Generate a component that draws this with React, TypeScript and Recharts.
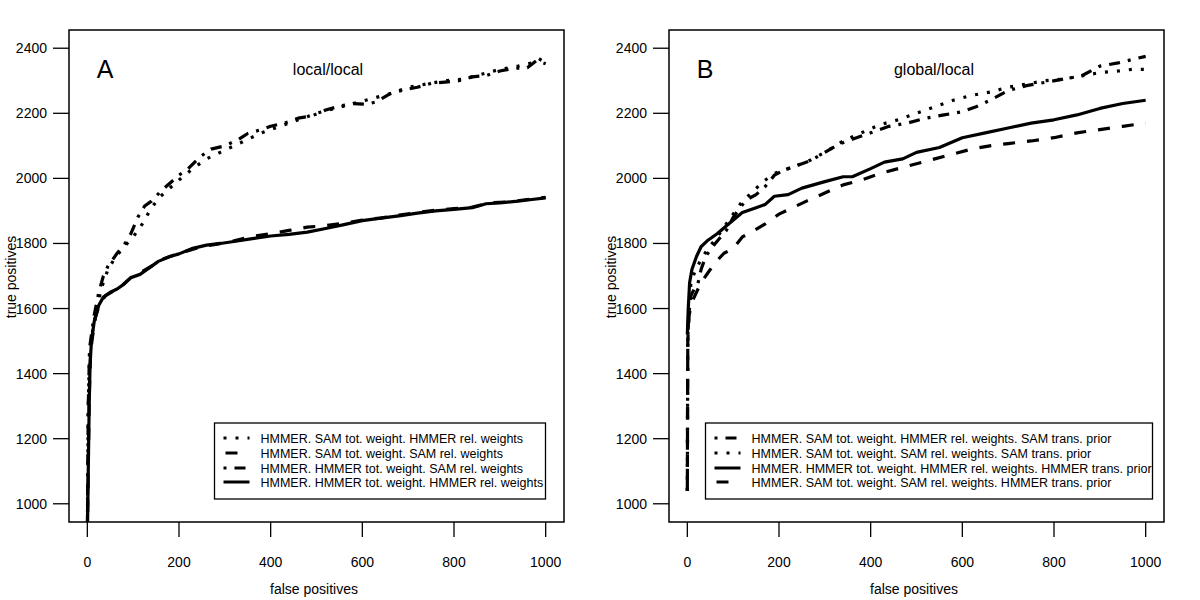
import { LineChart, Line, XAxis, YAxis, ReferenceArea, Customized } from 'recharts';

const FONT = '"Liberation Sans", Arial, Helvetica, sans-serif';

const xTicks = [0, 200, 400, 600, 800, 1000];
const yTicks = [1000, 1200, 1400, 1600, 1800, 2000, 2200, 2400];

// R-style line types
const DOTTED = '3 9';
const DASHED = '12 12';
const DOTDASH = '3 8 11 8';

// panel A: local/local
const aDotX = [0, 2, 5, 10, 20, 30, 45, 60, 80, 100, 120, 140, 160, 180, 200, 230, 260, 290, 320, 350, 380, 420, 460, 500, 540, 580, 620, 660, 700, 740, 780, 820, 860, 900, 940, 970, 985, 1000];
const aDotY = [900, 1300, 1470, 1520, 1590, 1660, 1720, 1755, 1790, 1820, 1860, 1910, 1945, 1970, 1995, 2030, 2060, 2080, 2100, 2120, 2140, 2160, 2180, 2200, 2215, 2230, 2245, 2260, 2280, 2290, 2300, 2305, 2320, 2335, 2345, 2355, 2368, 2355];

const aDashX = [0, 1, 4, 7, 10, 17, 27, 40, 55, 75, 95, 115, 140, 165, 190, 220, 250, 280, 320, 360, 400, 440, 480, 520, 560, 600, 640, 680, 720, 760, 800, 840, 880, 920, 960, 1000];
const aDashY = [900, 1000, 1320, 1460, 1500, 1570, 1615, 1640, 1652, 1670, 1695, 1710, 1730, 1752, 1765, 1778, 1790, 1797, 1808, 1822, 1830, 1840, 1850, 1855, 1862, 1872, 1878, 1887, 1895, 1902, 1907, 1912, 1925, 1928, 1935, 1942];

const aDotDashX = [0, 2, 5, 8, 15, 25, 35, 45, 55, 65, 80, 95, 110, 125, 140, 160, 180, 200, 220, 245, 270, 300, 330, 350, 380, 400, 430, 460, 490, 520, 550, 580, 610, 630, 660, 690, 720, 750, 780, 810, 840, 870, 900, 930, 960, 980, 1000];
const aDotDashY = [900, 1300, 1480, 1510, 1580, 1650, 1700, 1730, 1750, 1770, 1795, 1830, 1880, 1915, 1930, 1960, 1985, 2010, 2030, 2065, 2090, 2100, 2120, 2138, 2150, 2160, 2170, 2185, 2192, 2210, 2222, 2230, 2228, 2235, 2260, 2272, 2280, 2292, 2296, 2300, 2312, 2316, 2330, 2338, 2340, 2362, 2352];

const aSolidX = [0, 1, 4, 6, 9, 15, 25, 35, 50, 65, 80, 95, 115, 135, 155, 180, 200, 230, 260, 290, 320, 360, 400, 440, 480, 520, 560, 600, 640, 680, 720, 760, 800, 840, 870, 900, 940, 970, 1000];
const aSolidY = [900, 1000, 1300, 1430, 1500, 1560, 1610, 1635, 1650, 1660, 1675, 1695, 1705, 1725, 1745, 1760, 1768, 1785, 1795, 1800, 1806, 1815, 1823, 1828, 1835, 1846, 1858, 1870, 1878, 1885, 1893, 1900, 1905, 1910, 1922, 1925, 1930, 1935, 1940];

// panel B: global/local
const bDotDashX = [0, 0.5, 1, 3, 8, 15, 22, 30, 40, 55, 70, 85, 100, 115, 130, 150, 170, 190, 210, 240, 270, 300, 330, 360, 400, 440, 480, 520, 560, 600, 630, 660, 700, 740, 780, 820, 860, 900, 940, 970, 1000];
const bDotDashY = [1040, 1300, 1500, 1580, 1640, 1660, 1670, 1720, 1760, 1790, 1815, 1840, 1880, 1910, 1935, 1950, 1975, 2010, 2025, 2040, 2055, 2080, 2105, 2120, 2140, 2160, 2170, 2185, 2195, 2205, 2220, 2240, 2270, 2285, 2295, 2305, 2315, 2345, 2355, 2365, 2375];

const bDotX = [0, 0.5, 1, 3, 8, 18, 30, 45, 60, 80, 100, 120, 140, 165, 190, 220, 260, 300, 340, 380, 420, 460, 500, 540, 580, 620, 660, 700, 740, 780, 820, 860, 900, 940, 970, 1000];
const bDotY = [1040, 1300, 1500, 1600, 1680, 1720, 1750, 1785, 1810, 1850, 1890, 1930, 1955, 1990, 2015, 2030, 2050, 2080, 2115, 2140, 2165, 2180, 2200, 2220, 2240, 2255, 2265, 2280, 2290, 2300, 2305, 2315, 2325, 2330, 2335, 2335];

const bSolidX = [0, 2, 5, 10, 20, 30, 45, 65, 90, 120, 150, 170, 190, 220, 250, 300, 340, 360, 400, 430, 470, 500, 550, 600, 650, 700, 750, 800, 850, 900, 950, 1000];
const bSolidY = [1520, 1600, 1680, 1720, 1760, 1790, 1810, 1830, 1860, 1895, 1910, 1920, 1945, 1950, 1970, 1990, 2005, 2005, 2030, 2050, 2060, 2080, 2095, 2125, 2140, 2155, 2170, 2180, 2195, 2215, 2230, 2240];

const bDashX = [0, 0.5, 1, 4, 10, 20, 30, 45, 60, 80, 100, 120, 140, 170, 200, 230, 260, 300, 340, 380, 420, 460, 500, 540, 580, 620, 660, 700, 750, 800, 850, 900, 950, 1000];
const bDashY = [1040, 1300, 1500, 1580, 1620, 1650, 1680, 1710, 1740, 1770, 1785, 1820, 1835, 1860, 1890, 1910, 1930, 1955, 1980, 1995, 2015, 2030, 2045, 2060, 2075, 2090, 2100, 2107, 2115, 2125, 2140, 2150, 2160, 2170];

const pts = (xs: number[], ys: number[]) => xs.map((x, i) => ({ x, y: ys[i] }));

type Series = { name: string; data: { x: number; y: number }[]; dash?: string };

const seriesA: Series[] = [
  { name: 'HMMER. SAM tot. weight. HMMER rel. weights', data: pts(aDotX, aDotY), dash: DOTTED },
  { name: 'HMMER. SAM tot. weight. SAM rel. weights', data: pts(aDashX, aDashY), dash: DASHED },
  { name: 'HMMER. HMMER tot. weight. SAM rel. weights', data: pts(aDotDashX, aDotDashY), dash: DOTDASH },
  { name: 'HMMER. HMMER tot. weight. HMMER rel. weights', data: pts(aSolidX, aSolidY) },
];

const seriesB: Series[] = [
  { name: 'HMMER. SAM tot. weight. HMMER rel. weights. SAM trans. prior', data: pts(bDotDashX, bDotDashY), dash: DOTDASH },
  { name: 'HMMER. SAM tot. weight. SAM rel. weights. SAM trans. prior', data: pts(bDotX, bDotY), dash: DOTTED },
  { name: 'HMMER. HMMER tot. weight. HMMER rel. weights. HMMER trans. prior', data: pts(bSolidX, bSolidY) },
  { name: 'HMMER. SAM tot. weight. SAM rel. weights. HMMER trans. prior', data: pts(bDashX, bDashY), dash: DASHED },
];

type PanelProps = {
  letter: string;
  title: string;
  titleX: number;
  series: Series[];
  legendX: number;
  legendW: number;
};

function Panel({ letter, title, titleX, series, legendX, legendW }: PanelProps) {
  const rowY = [438, 453, 468, 482];
  const overlay = () => (
    <g fontFamily={FONT} fill="#000">
      <text x={105} y={78} fontSize={25} textAnchor="middle">{letter}</text>
      <text x={titleX} y={75} fontSize={16} textAnchor="middle">{title}</text>
      <text x={314} y={594} fontSize={14} textAnchor="middle">false positives</text>
      <text x={16} y={277} fontSize={14} textAnchor="middle" transform="rotate(-90 16 277)">true positives</text>
      <rect x={legendX} y={423} width={legendW} height={76} fill="#fff" stroke="#000" strokeWidth={1.3} />
      {series.map((s, i) => (
        <g key={s.name}>
          <line
            x1={legendX + 9}
            x2={legendX + 35}
            y1={rowY[i]}
            y2={rowY[i]}
            stroke="#000"
            strokeWidth={3}
            strokeDasharray={s.dash}
            strokeDashoffset={s.dash === DASHED ? -2 : 0}
          />
          <text x={legendX + 46} y={rowY[i] + 4.5} fontSize={12.5}>{s.name}</text>
        </g>
      ))}
    </g>
  );

  return (
    <LineChart width={600} height={600} margin={{ top: 30, right: 36, bottom: 8, left: 9 }}>
      <XAxis
        type="number"
        dataKey="x"
        domain={[-40, 1040]}
        ticks={xTicks}
        interval={0}
        allowDataOverflow
        axisLine={false}
        height={70}
        tickSize={15}
        tickMargin={20}
        tickLine={{ stroke: '#000', strokeWidth: 1.3 }}
        tick={{ fill: '#000', fontSize: 14, fontFamily: FONT }}
      />
      <YAxis
        type="number"
        dataKey="y"
        domain={[944, 2456]}
        ticks={yTicks}
        interval={0}
        allowDataOverflow
        axisLine={false}
        width={60}
        tickSize={16}
        tickMargin={6}
        tickLine={{ stroke: '#000', strokeWidth: 1.3 }}
        tick={{ fill: '#000', fontSize: 14, fontFamily: FONT }}
      />
      <ReferenceArea x1={-40} x2={1040} y1={944} y2={2456} fill="none" stroke="#000" strokeWidth={1.5} ifOverflow="visible" />
      {series.map((s) => (
        <Line
          key={s.name}
          data={s.data}
          dataKey="y"
          type="linear"
          stroke="#000"
          strokeWidth={3.2}
          strokeDasharray={s.dash}
          strokeLinejoin="round"
          dot={false}
          activeDot={false}
          isAnimationActive={false}
        />
      ))}
      <Customized component={overlay} />
    </LineChart>
  );
}

export default function App() {
  return (
    <div style={{ position: 'absolute', left: 0, top: 0, width: 1200, height: 600, background: '#fff', display: 'flex' }}>
      <Panel letter="A" title="local/local" titleX={328} series={seriesA} legendX={214.5} legendW={331} />
      <Panel letter="B" title="global/local" titleX={334} series={seriesB} legendX={105.5} legendW={447} />
    </div>
  );
}
